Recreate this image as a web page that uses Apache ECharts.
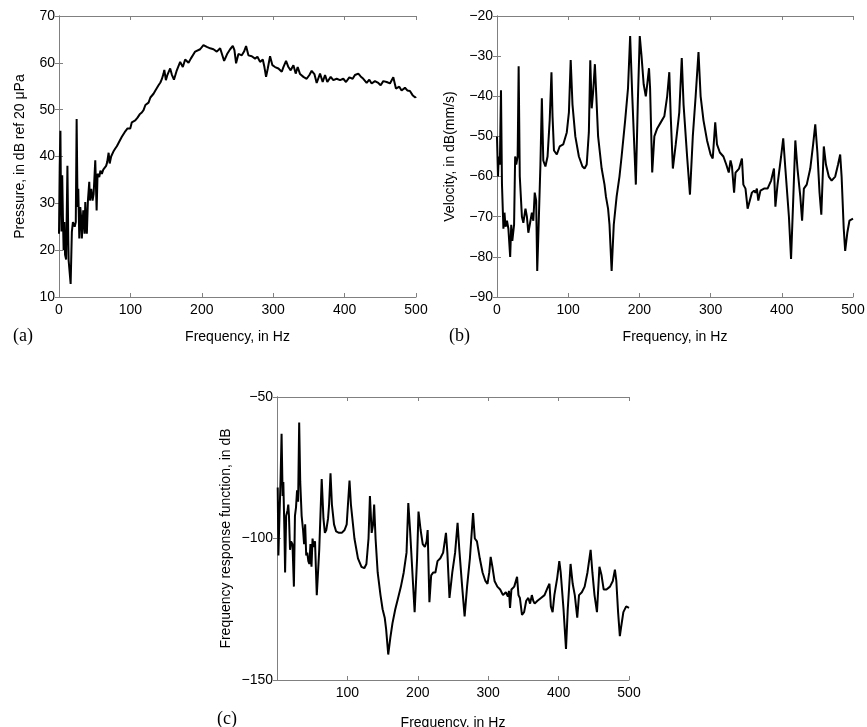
<!DOCTYPE html>
<html>
<head>
<meta charset="utf-8">
<script src="https://cdn.jsdelivr.net/npm/echarts@6/dist/echarts.min.js"></script>
<style>
  html, body { margin: 0; padding: 0; background: #fff; }
  #chart { width: 867px; height: 727px; }
</style>
</head>
<body>
<div id="chart"></div>
<script>
// (a) sound pressure
var freqA = [0, 1, 2, 2.8, 3.5, 4.5, 5.5, 6.5, 7.5, 8.5, 10, 11.8, 13, 13.5, 15, 16.3, 18, 19.5, 20.5, 22,
  23.5, 24.7, 26, 27, 28.4, 29.8, 31, 32, 34, 35.9, 36.8, 38, 39, 40.5, 42.4, 43.3, 45.2, 47, 48.5, 50.8,
  52.7, 54, 56.4, 58, 60, 62, 64, 66, 67.5, 69.5, 71, 73, 76, 78.8, 81, 83.4, 86, 88, 90.4, 92,
  93.7, 96, 99.8, 102, 104, 106.8, 110, 113, 116, 118.4, 121, 123, 125.4, 128, 130, 132.4, 135, 137, 139.4, 142,
  144, 146.4, 147.5, 149.7, 152, 154, 155.7, 158, 161, 165, 169.7, 173.4, 176.7, 181.4, 184.6, 190.7, 197.7, 202.3, 207, 211.7,
  216.3, 221, 225.7, 231.3, 235.9, 239.7, 243.4, 245.7, 248, 251.3, 256, 259.2, 262, 265.3, 270, 274.6, 277.9, 281.6, 285.4, 287.7,
  290, 292.4, 295.6, 298.9, 302.6, 307.3, 312, 314.3, 318, 321.3, 324.5, 328.3, 331.5, 334.3, 337.6, 342.3, 346.9, 350.7, 353.9, 357.7,
  360.9, 365.6, 369.3, 372.6, 375.8, 380.5, 384.2, 388.9, 393.6, 398.2, 402, 406.6, 411.3, 414.5, 419.2, 422.5, 426.2, 430.9, 434.6, 437.9,
  442.5, 447.2, 450.5, 454.2, 458.9, 463.5, 468.2, 471.9, 476.6, 479.8, 484.5, 487.8, 491.5, 495.2, 499, 500];
var pressureA = [23.5, 38, 45.5, 30, 24, 36, 27, 20, 26, 19, 18, 38, 22, 17.8, 18, 12.8, 23.9, 26, 25.7, 25,
  26, 48, 29.2, 33.1, 22.5, 29.2, 27, 22.5, 28.5, 23.5, 30.3, 26, 23.5, 30.6, 34.6, 30.6, 33.1, 30.6, 32, 39.2,
  28.5, 36.3, 35.6, 37, 36.3, 37.2, 37, 38, 38.8, 40.8, 38.5, 40, 41, 41.7, 42.2, 42.9, 43.2, 44.2, 44.3, 45.2,
  44.8, 46, 46, 47.3, 47, 47.7, 48.3, 49, 49.4, 49.9, 51, 50.8, 51.5, 52.6, 52.8, 53.4, 54.1, 54.3, 55.2, 55.8,
  56.5, 57.7, 58.5, 56.3, 57.5, 57.2, 58.8, 57.5, 56.4, 58.4, 60.2, 59.1, 60.7, 60, 60.9, 62.4, 62.9, 63.8, 63.4, 63.1,
  62.9, 62.4, 63.1, 60.4, 62, 62.9, 63.6, 62.7, 59.9, 61.9, 61.6, 62.4, 63.6, 61.6, 61.4, 60.9, 61.3, 60.2, 60.7, 59.1,
  57, 58.8, 61.4, 59.5, 59.1, 58.8, 58.1, 59.1, 60.4, 59.1, 58.4, 59.5, 57.7, 59.1, 57.6, 57, 56.6, 57.4, 58.3, 57.6,
  55.7, 57.7, 55.9, 57.4, 55.9, 57, 56.3, 56.6, 56.3, 56.6, 55.9, 56.9, 56.6, 57.4, 57.7, 57.1, 56.6, 55.7, 56.4, 55.6,
  56.1, 55.7, 55.2, 56.1, 55.9, 55.6, 56.9, 54.5, 54.9, 54.1, 54.7, 54.1, 54, 53.1, 52.6, 52.8];

// (b) velocity
var freqB = [0, 1.4, 2.5, 4, 5.6, 7, 9, 10.5, 12, 14, 16, 18.5, 20, 21.5, 24, 25.5, 27, 29, 30.4, 32,
  35, 37, 40, 42, 44, 46, 49, 51, 53, 55, 56.5, 58, 61, 63, 65, 68, 71, 74, 76.5, 78,
  80, 84, 88, 93, 98, 101, 103.5, 106, 110, 115, 120, 123, 126, 129, 131, 133, 135, 137.5, 139.5, 142,
  147, 151, 153, 156, 158, 161, 164, 168, 172, 175, 180, 184, 187, 190, 195, 198, 200.5, 203, 206, 209,
  211, 213.5, 215, 218, 221, 225, 230, 235, 239, 242, 244, 247, 251, 256, 259.5, 262, 267, 271, 275, 279,
  283, 286, 290, 295, 300, 303, 306.5, 309, 313, 318, 322, 325.5, 328, 330, 333, 335, 340, 344, 346, 349,
  352, 355, 358, 361, 363, 365, 367, 370, 375, 380, 385, 389, 391, 394, 399, 402, 405, 410, 413, 416,
  419, 422, 426, 428.5, 431, 435, 440, 444, 447, 450, 453, 455.5, 459, 462, 466, 470, 475, 479, 482, 484,
  487, 489, 492, 495, 500];
var velocityB = [-50, -60, -55, -57, -38.5, -62, -73, -69, -72.5, -71, -73, -80, -72, -76, -72, -55, -57, -55, -32.5, -60,
  -70, -71.5, -68, -70, -74, -72, -69, -71, -64, -66, -83.5, -75, -57, -40.5, -56, -57.5, -55, -46, -34, -45,
  -53.5, -54.5, -52.5, -52, -49, -44, -31, -42, -50, -55, -57.5, -58, -57, -49, -31, -43, -39, -32, -40, -50,
  -58, -62, -65, -68, -72, -83.5, -72, -65, -60, -55, -46, -38, -25, -40, -62, -40, -25, -30, -37, -40,
  -37, -33, -38, -59, -50, -48, -46.5, -45, -40, -34, -45, -58, -52, -44, -30.5, -42, -55, -64.5, -50, -40,
  -29, -40, -46, -51, -54.5, -55.5, -46.5, -52, -54, -55, -57, -59, -56, -57.5, -64, -59, -58, -55.5, -62, -63,
  -68, -66, -64, -63.5, -64, -63, -66, -63.5, -63, -63, -61, -58, -67.5, -62, -55, -50.5, -58, -70, -80.5, -66,
  -51, -58, -65, -71, -63, -62, -58, -52, -47, -54, -64, -69.5, -52.5, -57, -60, -61, -60, -57, -54.5, -60,
  -73, -78.5, -74, -71, -70.5];

// (c) frequency response function
var freqC = [1, 2, 3.5, 5, 6.5, 8, 9, 10.5, 11.5, 13, 15, 16, 17, 18.5, 20, 22, 24, 25.5, 27, 28.5,
  30, 31.5, 33, 35, 37, 38.5, 40, 41.5, 43, 44.5, 46, 47.5, 49, 50.5, 52, 54, 56.5, 60, 63.5, 66,
  68, 70, 72.5, 74, 76, 78, 81, 84, 88, 92, 96, 99, 103, 105, 110, 115, 120, 124, 127, 130,
  132, 134.5, 136.5, 138, 140, 143, 147, 150, 153, 155, 158, 161, 164, 168, 172, 176, 180, 184, 186.5, 189,
  193, 195.5, 199, 201, 204, 207, 210, 212.5, 214, 216.5, 219, 222, 225, 228, 232, 236, 240, 242, 245, 249,
  253, 256.5, 259, 263, 266.5, 270, 274, 278.5, 281, 284, 288, 292, 296, 299, 301.5, 303.5, 306, 309, 313, 317,
  321, 325, 328, 329.5, 331, 333, 337, 341, 343, 345, 348, 351, 354, 357, 359.5, 362, 364, 366, 370, 375,
  380, 385, 387, 389, 391.5, 394, 398, 401, 403, 407, 410.5, 413, 417, 420, 423, 426.5, 429, 433, 437, 441,
  445.5, 448, 451, 454.5, 458, 461, 464, 468, 473, 477, 480, 482, 484.5, 487, 489, 492, 496, 500];
var frfC = [-82, -106, -92, -80, -63, -85, -80, -97, -112, -92, -90, -88, -92, -104, -101, -102, -117, -92, -89, -83,
  -87, -59, -80, -92, -97, -102, -95, -106, -105, -108, -109, -102, -110, -100, -103, -101, -120, -104, -79, -93,
  -98, -97, -93, -88, -77, -88, -95, -97.5, -98, -98, -97, -95, -79.5, -88, -100, -107, -110, -110.5, -109, -100,
  -85, -98, -95, -88, -100, -112, -120, -125, -128, -132, -141, -135, -130, -125, -121, -117, -112, -105, -87.5, -97,
  -115, -126, -107, -90.5, -97, -102, -103, -101, -97, -122.5, -113, -112, -112, -108, -107, -105, -98, -105, -121, -112,
  -105, -94.5, -104, -117, -127.5, -117, -107, -91, -100, -101, -107, -112, -115, -116, -112, -106.5, -110, -115, -117, -118,
  -120, -119, -120.5, -118.5, -124.5, -118, -117, -113.5, -120, -121, -127, -126, -122, -121, -123, -120, -122, -123, -122, -121,
  -120, -117, -116, -124, -126, -120, -114, -108, -112, -125, -139, -125, -109, -116, -120, -128, -120, -119, -117, -112,
  -104, -112, -120, -126, -110, -113, -118, -118, -117, -115, -111, -115, -126, -134.5, -131, -126, -124, -124.5];

var freqTicks = [0, 100, 200, 300, 400, 500];

function zip(xs, ys) {
  var out = [];
  for (var i = 0; i < xs.length; i++) out.push([xs[i], ys[i]]);
  return out;
}

var AXIS_COLOR = '#808080';
var FONT = 'Liberation Sans, Arial, Helvetica, sans-serif';

function minusFmt(v) {
  return String(v).replace('-', '\u2212');
}

// bottom axis with labels, top axis only for the box and ticks
function xAxes(gridIndex, hideZero, gap) {
  return [{
    gridIndex: gridIndex, type: 'value', position: 'bottom',
    min: freqTicks[0], max: freqTicks[freqTicks.length - 1], interval: 100,
    name: 'Frequency, in Hz', nameLocation: 'middle', nameGap: gap,
    nameTextStyle: { fontSize: 14, color: '#000', fontFamily: FONT },
    axisLine: { show: true, lineStyle: { color: AXIS_COLOR, width: 1 } },
    axisTick: { show: true, inside: true, length: 4, lineStyle: { color: AXIS_COLOR } },
    axisLabel: { fontSize: 14, color: '#000', fontFamily: FONT, margin: 6,
      formatter: function (v) { return (hideZero && v === 0) ? '' : v; } },
    splitLine: { show: false }
  }, {
    gridIndex: gridIndex, type: 'value', position: 'top',
    min: freqTicks[0], max: freqTicks[freqTicks.length - 1], interval: 100,
    axisLine: { show: true, lineStyle: { color: AXIS_COLOR, width: 1 } },
    axisTick: { show: true, inside: true, length: 4, lineStyle: { color: AXIS_COLOR } },
    axisLabel: { show: false },
    splitLine: { show: false }
  }];
}

function yAxes(gridIndex, min, max, step, title, gap) {
  return [{
    gridIndex: gridIndex, type: 'value', position: 'left',
    min: min, max: max, interval: step,
    name: title, nameLocation: 'middle', nameGap: gap,
    nameTextStyle: { fontSize: 14, color: '#000', fontFamily: FONT },
    axisLine: { show: true, lineStyle: { color: AXIS_COLOR, width: 1 } },
    axisTick: { show: true, inside: true, length: 4, lineStyle: { color: AXIS_COLOR } },
    axisLabel: { fontSize: 14, color: '#000', fontFamily: FONT, margin: 4, formatter: minusFmt },
    splitLine: { show: false }
  }, {
    gridIndex: gridIndex, type: 'value', position: 'right',
    min: min, max: max, interval: step,
    axisLine: { show: true, lineStyle: { color: AXIS_COLOR, width: 1 } },
    axisTick: { show: true, inside: true, length: 4, lineStyle: { color: AXIS_COLOR } },
    axisLabel: { show: false },
    splitLine: { show: false }
  }];
}

function curve(data, idx) {
  return {
    type: 'line', data: data, xAxisIndex: idx, yAxisIndex: idx,
    showSymbol: false, symbol: 'none', clip: true,
    lineStyle: { color: '#000', width: 2 }
  };
}

var chart = echarts.init(document.getElementById('chart'), null, { renderer: 'canvas' });

var option = {
  animation: false,
  backgroundColor: '#fff',
  grid: [
    { left: 59, top: 16, width: 357, height: 281, outerBoundsMode: 'none' },
    { left: 497, top: 16, width: 356, height: 281, outerBoundsMode: 'none' },
    { left: 277, top: 397, width: 352, height: 283, outerBoundsMode: 'none' }
  ],
  xAxis: [].concat(xAxes(0, false, 33), xAxes(1, false, 33), xAxes(2, true, 36)),
  yAxis: [].concat(
    yAxes(0, 10, 70, 10, 'Pressure, in dB ref 20 \u03bcPa', 32),
    yAxes(1, -90, -20, 10, 'Velocity, in dB(mm/s)', 40),
    yAxes(2, -150, -50, 50, 'Frequency response function, in dB', 44)
  ),
  graphic: [
    { type: 'text', left: 13, top: 327, style: { text: '(a)', font: '18px "Liberation Serif", "Times New Roman", serif', fill: '#000' } },
    { type: 'text', left: 449, top: 327, style: { text: '(b)', font: '18px "Liberation Serif", "Times New Roman", serif', fill: '#000' } },
    { type: 'text', left: 217, top: 710, style: { text: '(c)', font: '18px "Liberation Serif", "Times New Roman", serif', fill: '#000' } }
  ],
  series: [
    curve(zip(freqA, pressureA), 0),
    curve(zip(freqB, velocityB), 2),
    curve(zip(freqC, frfC), 4)
  ]
};

chart.setOption(option);
</script>
</body>
</html>
